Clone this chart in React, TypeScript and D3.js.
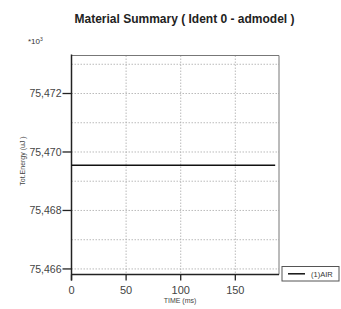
import React from 'react';
import * as d3 from 'd3';

const title = 'Material Summary ( Ident 0 - admodel )';
const seriesName = '(1)AIR';
const timeValues = [0, 186.5];
const energyValues = [75469.55, 75469.55];
const xTicks = [0, 50, 100, 150];
const yTicks = [75466, 75468, 75470, 75472];
const yGrid = [75466, 75467, 75468, 75469, 75470, 75471, 75472, 75473];
const xDomain = [0, 190];
const yDomain = [75465.81, 75473.3];

const W = 341;
const H = 309;
const m = { left: 71.5, right: 279, top: 55.5, bottom: 274.5 };
const font = 'Arial, "Liberation Sans", sans-serif';

export default function App() {
  const x = d3.scaleLinear().domain(xDomain).range([m.left, m.right]);
  const y = d3.scaleLinear().domain(yDomain).range([m.bottom, m.top]);
  const fmt = d3.format(',');
  const line = d3.line<number>()
    .x((_, i) => x(timeValues[i]))
    .y(d => y(d));

  return (
    <svg width={W} height={H} style={{ position: 'absolute', left: 0, top: 0, background: '#fff' }}>
      <text x={184.5} y={22.5} textAnchor="middle" fontFamily={font} fontWeight="bold" fontSize={12} fill="#222">
        {title}
      </text>
      <text x={28} y={44} fontFamily={font} fontSize={8} fill="#333">
        *10<tspan dy={-3} fontSize={5}>3</tspan>
      </text>

      {/* grid */}
      {yGrid.map(v => (
        <line key={'gy' + v} x1={m.left} x2={m.right} y1={y(v)} y2={y(v)}
          stroke="#aaa" strokeWidth={0.8} strokeDasharray="1.5,1.5" />
      ))}
      {xTicks.slice(1).map(v => (
        <line key={'gx' + v} x1={x(v)} x2={x(v)} y1={m.top} y2={m.bottom}
          stroke="#aaa" strokeWidth={0.8} strokeDasharray="1.5,1.5" />
      ))}

      {/* frame */}
      <line x1={m.left} x2={m.right} y1={m.top} y2={m.top} stroke="#777" strokeWidth={1} />
      <line x1={m.right} x2={m.right} y1={m.top} y2={m.bottom} stroke="#777" strokeWidth={1} />
      <line x1={m.left} x2={m.left} y1={m.top - 1} y2={m.bottom + 6} stroke="#222" strokeWidth={1.5} />
      <line x1={m.left} x2={m.right} y1={m.bottom} y2={m.bottom} stroke="#222" strokeWidth={1.5} />

      {/* y axis */}
      {yTicks.map(v => (
        <g key={'yt' + v}>
          <line x1={m.left - 9} x2={m.left} y1={y(v)} y2={y(v)} stroke="#222" strokeWidth={1.3} />
          <text x={m.left - 10} y={y(v) + 3.8} textAnchor="end" fontFamily={font} fontSize={10.5} fill="#444">
            {fmt(v)}
          </text>
        </g>
      ))}
      <text transform={`translate(24.5,161) rotate(-90)`} textAnchor="middle"
        fontFamily={font} fontSize={7} fill="#444">
        Tot.Energy (uJ )
      </text>

      {/* x axis */}
      {xTicks.map(v => (
        <g key={'xt' + v}>
          <line x1={x(v)} x2={x(v)} y1={m.bottom} y2={m.bottom + 6} stroke="#222" strokeWidth={1.3} />
          <text x={x(v)} y={m.bottom + 19} textAnchor="middle" fontFamily={font} fontSize={11} fill="#444">
            {v}
          </text>
        </g>
      ))}
      <text x={180} y={303} textAnchor="middle" fontFamily={font} fontSize={7} fill="#444">
        TIME (ms)
      </text>

      {/* data */}
      <path d={line(energyValues) || ''} fill="none" stroke="#111" strokeWidth={1.5} />

      {/* legend */}
      <rect x={282} y={266.5} width={57} height={14.5} fill="#fff" stroke="#555" strokeWidth={1} />
      <line x1={288} x2={305} y1={273.8} y2={273.8} stroke="#111" strokeWidth={1.5} />
      <text x={311} y={276.8} fontFamily={font} fontSize={7.5} fill="#333">
        {seriesName}
      </text>
    </svg>
  );
}
